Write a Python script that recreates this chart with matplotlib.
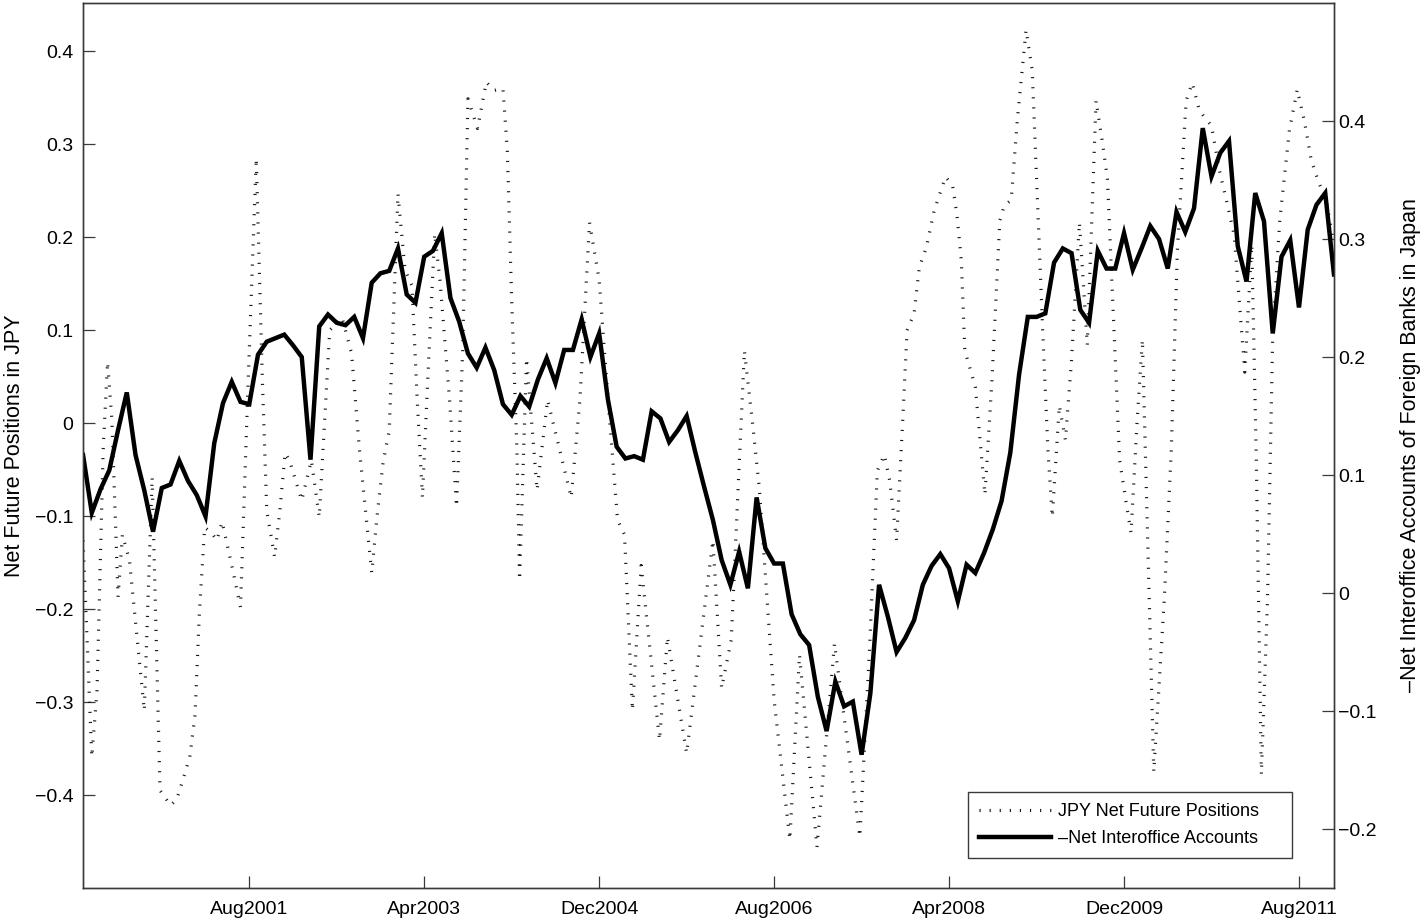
import matplotlib
matplotlib.use("Agg")
import matplotlib.pyplot as plt
from matplotlib.ticker import FixedLocator, FuncFormatter
import numpy as np

plt.rcParams['font.family'] = ['Liberation Sans', 'DejaVu Sans']

# Monthly series, Jan 2000 .. Dec 2011 (right axis)
interoffice = [
    0.117, 0.068, 0.088, 0.104, 0.138, 0.170, 0.117, 0.087, 0.052, 0.089,
    0.092, 0.112, 0.095, 0.083, 0.065, 0.127, 0.161, 0.179, 0.162, 0.160,
    0.202, 0.213, 0.216, 0.219, 0.210, 0.200, 0.113, 0.226, 0.236, 0.229,
    0.227, 0.234, 0.216, 0.263, 0.271, 0.273, 0.292, 0.253, 0.246, 0.285,
    0.290, 0.305, 0.250, 0.230, 0.203, 0.191, 0.208, 0.189, 0.160, 0.151,
    0.167, 0.158, 0.181, 0.199, 0.178, 0.206, 0.206, 0.232, 0.200, 0.220,
    0.164, 0.124, 0.114, 0.116, 0.113, 0.154, 0.148, 0.128, 0.138, 0.150,
    0.119, 0.090, 0.062, 0.028, 0.007, 0.035, 0.004, 0.081, 0.038, 0.025,
    0.025, -0.018, -0.035, -0.044, -0.088, -0.117, -0.075, -0.096, -0.092, -0.137,
    -0.085, 0.007, -0.020, -0.050, -0.038, -0.023, 0.007, 0.023, 0.033, 0.021,
    -0.007, 0.024, 0.017, 0.034, 0.054, 0.078, 0.119, 0.185, 0.234, 0.234,
    0.237, 0.280, 0.292, 0.288, 0.240, 0.229, 0.290, 0.275, 0.275, 0.305,
    0.274, 0.292, 0.311, 0.300, 0.275, 0.323, 0.306, 0.326, 0.394, 0.353,
    0.373, 0.383, 0.294, 0.264, 0.339, 0.315, 0.220, 0.285, 0.299, 0.242,
    0.308, 0.329, 0.339, 0.270,
]

# JPY net future positions: time in months since Jan 2000, value (left axis)
jpy_month = [
    0.0, 1.0, 1.6, 2.3, 2.8, 3.3, 4.0, 4.5, 5.3, 7.0,
    7.9, 8.8, 10.0, 10.7, 11.4, 12.2, 12.8, 13.3, 13.9, 14.7,
    15.3, 15.9, 17.0, 18.0, 18.8, 19.8, 20.5, 21.0, 21.9, 22.5,
    23.1, 23.6, 25.0, 26.1, 27.0, 28.2, 29.6, 30.7, 31.6, 33.0,
    33.6, 34.3, 35.0, 36.0, 36.8, 37.6, 38.2, 38.8, 39.4, 40.2,
    40.8, 41.9, 42.7, 43.4, 44.0, 45.1, 46.1, 47.0, 48.0, 48.5,
    49.0, 49.6, 49.9, 50.7, 51.9, 53.1, 54.5, 55.8, 56.8, 57.9,
    59.0, 60.2, 61.1, 61.9, 62.8, 63.8, 65.9, 66.8, 69.0, 72.0,
    73.0, 74.1, 75.6, 76.5, 77.3, 79.0, 80.8, 81.9, 83.9, 85.9,
    88.8, 89.9, 90.8, 91.6, 92.2, 93.0, 93.7, 94.2, 95.0, 95.6,
    96.4, 97.3, 98.6, 99.4, 99.9, 100.4, 100.8, 101.3, 102.0, 103.1,
    103.9, 104.8, 105.3, 106.1, 106.8, 107.8, 108.5, 109.1, 109.7, 110.3,
    110.8, 111.6, 112.3, 113.0, 113.9, 114.8, 115.4, 115.8, 116.5, 117.1,
    117.7, 118.5, 119.2, 119.8, 120.5, 121.1, 122.4, 123.6, 124.4, 125.1,
    126.1, 126.8, 127.6, 128.2, 129.0, 129.9, 130.7, 131.6, 132.8, 133.6,
    134.1, 134.7, 135.4, 136.0, 136.8, 137.9, 138.8, 139.6, 140.4, 141.3,
    142.1, 142.9,
]
jpy_value = [
    -0.126, -0.359, -0.287, -0.029, 0.066, 0.003, -0.187, -0.120, -0.147, -0.309,
    -0.058, -0.395, -0.411, -0.405, -0.384, -0.359, -0.314, -0.204, -0.112, -0.118,
    -0.126, -0.106, -0.153, -0.198, 0.025, 0.285, 0.046, -0.094, -0.144, -0.094,
    -0.032, -0.040, -0.083, -0.040, -0.101, 0.100, 0.114, 0.075, -0.029, -0.161,
    -0.101, -0.042, -0.008, 0.247, 0.165, 0.148, 0.025, -0.080, 0.046, 0.204,
    0.154, 0.025, -0.090, 0.078, 0.349, 0.317, 0.367, 0.358, 0.360, 0.294,
    0.132, -0.029, -0.169, 0.070, -0.072, 0.025, -0.029, -0.080, 0.025, 0.216,
    0.154, 0.003, -0.104, -0.120, -0.309, -0.153, -0.341, -0.230, -0.355, -0.126,
    -0.285, -0.233, 0.078, 0.003, -0.069, -0.298, -0.448, -0.249, -0.456, -0.237,
    -0.445, -0.244, -0.051, -0.034, -0.061, -0.126, 0.003, 0.100, 0.118, 0.168,
    0.189, 0.229, 0.265, 0.256, 0.224, 0.175, 0.078, 0.062, 0.039, -0.077,
    0.046, 0.218, 0.234, 0.240, 0.326, 0.423, 0.380, 0.240, 0.100, -0.029,
    -0.101, 0.019, -0.018, 0.068, 0.216, 0.084, 0.240, 0.347, 0.304, 0.263,
    0.132, -0.040, -0.083, -0.118, 0.003, 0.090, -0.375, -0.190, -0.029, 0.186,
    0.347, 0.366, 0.337, 0.329, 0.320, 0.272, 0.240, 0.202, 0.055, 0.192,
    -0.029, -0.378, -0.190, 0.097, 0.218, 0.315, 0.359, 0.326, 0.283, 0.258,
    0.240, 0.198,
]

tick_labels = ['Aug2001', 'Apr2003', 'Dec2004', 'Aug2006', 'Apr2008', 'Dec2009', 'Aug2011']
left_ticks = [-0.4, -0.3, -0.2, -0.1, 0.0, 0.1, 0.2, 0.3, 0.4]
right_ticks = [-0.2, -0.1, 0.0, 0.1, 0.2, 0.3, 0.4]

MONTHS = ['Jan', 'Feb', 'Mar', 'Apr', 'May', 'Jun',
          'Jul', 'Aug', 'Sep', 'Oct', 'Nov', 'Dec']


def month_index(label):
    mon, year = label[:3], int(label[3:])
    return (year - 2000) * 12 + MONTHS.index(mon)


def fmt(v, _pos=None):
    if abs(v) < 1e-9:
        return '0'
    return f'{v:.1f}'.replace('-', '\u2212')


spine_color = '#3a3a3a'
fig = plt.figure(figsize=(14.22, 9.19), dpi=100)
ax = fig.add_axes([0.0584, 0.0337, 0.8797, 0.963])

ax.plot(jpy_month, jpy_value, color='#1a1a1a', lw=2.3,
        linestyle=(0, (0.36, 2.8)), dash_capstyle='butt',
        label='JPY Net Future Positions')
ax.set_xlim(0, len(interoffice) - 1)
ax.set_ylim(-0.5, 0.452)

ax2 = ax.twinx()
ax2.plot(np.arange(len(interoffice)), interoffice, color='black', lw=3.2,
         solid_joinstyle='miter', label='\u2013Net Interoffice Accounts')
ax2.set_ylim(-0.25, 0.5)
ax2.set_xlim(0, len(interoffice) - 1)

ax.xaxis.set_major_locator(FixedLocator([month_index(t) for t in tick_labels]))
ax.set_xticklabels(tick_labels)
ax.yaxis.set_major_locator(FixedLocator(left_ticks))
ax.yaxis.set_major_formatter(FuncFormatter(fmt))
ax2.yaxis.set_major_locator(FixedLocator(right_ticks))
ax2.yaxis.set_major_formatter(FuncFormatter(fmt))

for a in (ax, ax2):
    for s in a.spines.values():
        s.set_color(spine_color)
        s.set_linewidth(1.0)
ax.tick_params(axis='both', direction='in', length=8.5, width=0.9,
               color=spine_color, labelsize=14, top=False, right=False)
ax.tick_params(axis='y', pad=7)
ax.tick_params(axis='x', pad=9)
ax2.tick_params(axis='y', direction='in', length=8.5, width=0.9,
                color=spine_color, labelsize=14, pad=3)

ax.set_ylabel('Net Future Positions in JPY', fontsize=15.5)
ax.yaxis.set_label_coords(-0.0465, 0.5)
ax2.set_ylabel('\u2013Net Interoffice Accounts of Foreign Banks in Japan',
               fontsize=15.5, rotation=90)
ax2.yaxis.set_label_coords(1.0525, 0.5)

handles = [ax.get_lines()[0], ax2.get_lines()[0]]
leg = ax2.legend(handles, [h.get_label() for h in handles],
                 loc='lower left', bbox_to_anchor=(0.7074, 0.0339, 0.259, 0.0768),
                 mode='expand', borderaxespad=0, fontsize=13, handlelength=4.0,
                 handletextpad=0.4, borderpad=0.6, labelspacing=0.55,
                 frameon=True, fancybox=False, framealpha=1)
leg.get_frame().set_edgecolor(spine_color)
leg.get_frame().set_linewidth(1.0)

fig.savefig('out.png', dpi=100)
